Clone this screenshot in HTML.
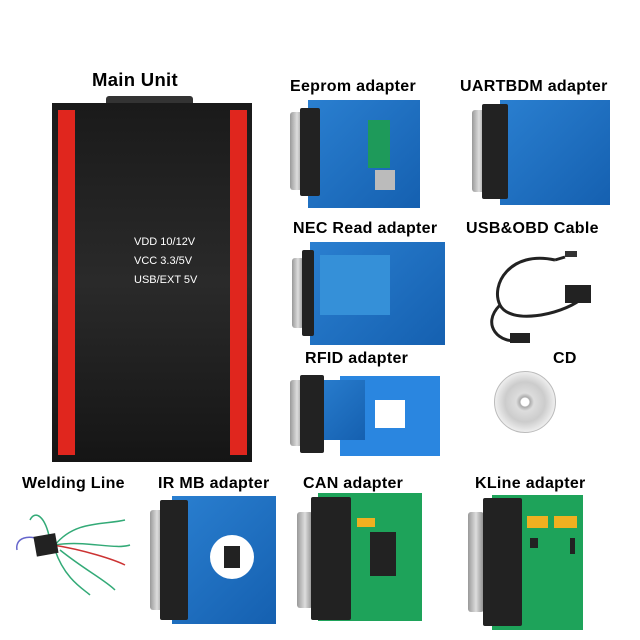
<!DOCTYPE html><html><head><style>
body{margin:0;width:640px;height:640px;background:#fff;position:relative;overflow:hidden;font-family:"Liberation Sans",sans-serif}
.l{position:absolute;font-weight:bold;font-size:16px;color:#000;white-space:nowrap;letter-spacing:0.3px}
.a{position:absolute}
.blue{background:linear-gradient(135deg,#2a7fd0,#1560b0);}
.green{background:#1ea35a}
.dsub{position:absolute;background:#222;border-radius:2px}
.metal{position:absolute;background:linear-gradient(90deg,#999,#ddd,#888);border-radius:3px}
</style></head><body>
<div class="l" style="left:92px;top:69px;font-size:18.5px">Main Unit</div>
<div class="a" style="left:106px;top:96px;width:87px;height:8px;background:#333;border-radius:3px 3px 0 0"></div>
<div class="a" style="left:52px;top:103px;width:200px;height:359px;background:linear-gradient(#1a1a1a,#2a2a2a 50%,#151515)"></div>
<div class="a" style="left:58px;top:110px;width:17px;height:345px;background:#e0261e"></div>
<div class="a" style="left:230px;top:110px;width:17px;height:345px;background:#e0261e"></div>
<div class="a" style="left:134px;top:233px;color:#fff;font-size:11px;line-height:19px">VDD 10/12V<br>VCC 3.3/5V<br>USB/EXT 5V</div>

<div class="l" style="left:290px;top:78px">Eeprom adapter</div>
<div class="a blue" style="left:308px;top:100px;width:112px;height:108px"></div>
<div class="metal" style="left:290px;top:112px;width:14px;height:78px"></div>
<div class="dsub" style="left:300px;top:108px;width:20px;height:88px"></div>
<div class="a" style="left:368px;top:120px;width:22px;height:48px;background:#1e9a5a"></div>
<div class="a" style="left:375px;top:170px;width:20px;height:20px;background:#bbb"></div>

<div class="l" style="left:460px;top:78px">UARTBDM adapter</div>
<div class="a blue" style="left:500px;top:100px;width:110px;height:105px"></div>
<div class="metal" style="left:472px;top:110px;width:14px;height:82px"></div>
<div class="dsub" style="left:482px;top:104px;width:26px;height:95px"></div>

<div class="l" style="left:293px;top:220px">NEC Read adapter</div>
<div class="a blue" style="left:310px;top:242px;width:135px;height:103px"></div>
<div class="metal" style="left:292px;top:258px;width:12px;height:70px"></div>
<div class="dsub" style="left:302px;top:250px;width:12px;height:86px"></div>
<div class="a" style="left:320px;top:255px;width:70px;height:60px;background:#3590d8"></div>

<div class="l" style="left:466px;top:220px">USB&amp;OBD Cable</div>
<svg class="a" style="left:470px;top:245px" width="140" height="110"><path d="M85 15 C40 5 20 40 30 60 C40 80 90 70 110 55 M85 15 L95 12 M30 60 C10 80 30 100 50 95" stroke="#222" stroke-width="3" fill="none"/><rect x="95" y="6" width="12" height="6" fill="#333"/><rect x="95" y="40" width="26" height="18" fill="#222"/><rect x="40" y="88" width="20" height="10" fill="#222"/></svg>

<div class="l" style="left:305px;top:350px">RFID adapter</div>
<div class="a" style="left:340px;top:376px;width:100px;height:80px;background:#2a86e0"></div>
<div class="a" style="left:375px;top:400px;width:30px;height:28px;background:#fff"></div>
<div class="a blue" style="left:310px;top:380px;width:55px;height:60px"></div>
<div class="metal" style="left:290px;top:380px;width:14px;height:66px"></div>
<div class="dsub" style="left:300px;top:375px;width:24px;height:78px"></div>

<div class="l" style="left:553px;top:350px">CD</div>
<div class="a" style="left:494px;top:371px;width:60px;height:60px;border-radius:50%;background:radial-gradient(circle,#fff 4px,#aaa 5px,#ddd 9px,#ccc 20px,#eee 30px);border:1px solid #bbb"></div>

<div class="l" style="left:22px;top:475px">Welding Line</div>
<svg class="a" style="left:5px;top:500px" width="130" height="100"><path d="M50 45 C70 20 100 25 120 20 M50 45 C80 40 110 50 125 45 M45 40 C40 15 30 10 25 20 M55 50 C80 70 100 80 110 90 M50 50 C60 80 80 90 85 95" stroke="#3a7" stroke-width="1.5" fill="none"/><path d="M48 45 C80 50 110 60 120 65" stroke="#c33" stroke-width="1.5" fill="none"/><path d="M48 45 C20 30 10 40 12 50" stroke="#66c" stroke-width="1.5" fill="none"/><rect x="30" y="35" width="22" height="20" fill="#222" transform="rotate(-10 40 45)"/></svg>

<div class="l" style="left:158px;top:475px">IR MB adapter</div>
<div class="a blue" style="left:172px;top:496px;width:104px;height:128px"></div>
<div class="metal" style="left:150px;top:510px;width:14px;height:100px"></div>
<div class="dsub" style="left:160px;top:500px;width:28px;height:120px"></div>
<div class="a" style="left:210px;top:535px;width:44px;height:44px;border-radius:50%;background:#fff"></div>
<div class="a" style="left:224px;top:546px;width:16px;height:22px;background:#222"></div>

<div class="l" style="left:303px;top:475px">CAN adapter</div>
<div class="a green" style="left:318px;top:493px;width:104px;height:128px"></div>
<div class="metal" style="left:297px;top:512px;width:16px;height:96px"></div>
<div class="dsub" style="left:311px;top:497px;width:40px;height:123px"></div>
<div class="a" style="left:370px;top:532px;width:26px;height:44px;background:#222"></div>
<div class="a" style="left:357px;top:518px;width:18px;height:9px;background:#f0b020"></div>

<div class="l" style="left:475px;top:475px">KLine adapter</div>
<div class="a green" style="left:492px;top:495px;width:91px;height:135px"></div>
<div class="metal" style="left:468px;top:512px;width:16px;height:100px"></div>
<div class="dsub" style="left:483px;top:498px;width:39px;height:128px"></div>
<div class="a" style="left:527px;top:516px;width:21px;height:12px;background:#f0b020"></div>
<div class="a" style="left:554px;top:516px;width:23px;height:12px;background:#f0b020"></div>
<div class="a" style="left:530px;top:538px;width:8px;height:10px;background:#222"></div>
<div class="a" style="left:570px;top:538px;width:5px;height:16px;background:#222"></div>
</body></html>
